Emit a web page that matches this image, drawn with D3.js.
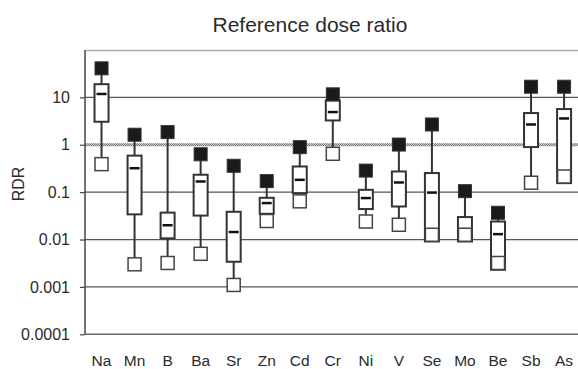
<!DOCTYPE html>
<html>
<head>
<meta charset="utf-8">
<script src="https://cdn.jsdelivr.net/npm/d3@7"></script>
<style>
body { margin: 0; background: #fff; }
text { font-family: "Liberation Sans", Arial, sans-serif; fill: #2a2a2a; }
</style>
</head>
<body>
<svg id="chart" width="578" height="369"></svg>
<script>
// element names along the x axis
var elements = ['Na', 'Mn', 'B', 'Ba', 'Sr', 'Zn', 'Cd', 'Cr', 'Ni', 'V', 'Se', 'Mo', 'Be', 'Sb', 'As'];
// (log scale)
var maxVals    = [41, 1.63, 1.85, 0.63, 0.36, 0.171, 0.89, 11.6, 0.285, 1.01, 2.68, 0.105, 0.0367, 16.8, 16.8];
var boxTop     = [19, 0.59, 0.037, 0.233, 0.0385, 0.076, 0.348, 8.6, 0.112, 0.273, 0.253, 0.0298, 0.024, 4.67, 5.67];
var medians    = [11.8, 0.32, 0.020, 0.168, 0.0144, 0.0588, 0.182, 4.9, 0.075, 0.16, 0.098, 0.0166, 0.013, 2.68, 3.59];
var boxBottom  = [3.06, 0.034, 0.0106, 0.032, 0.0034, 0.0349, 0.0955, 3.26, 0.044, 0.0498, 0.0091, 0.0091, 0.0023, 0.894, 0.155];
var minVals    = [0.39, 0.0030, 0.0032, 0.0050, 0.0011, 0.0246, 0.064, 0.645, 0.024, 0.0205, 0.0126, 0.0126, 0.0032, 0.158, 0.214];

var tickVals = [0.0001, 0.001, 0.01, 0.1, 1, 10];
var tickLabels = ['0.0001', '0.001', '0.01', '0.1', '1', '10'];

var mLeft = 85, mTop = 50, mBottom = 334.3, mRight = 580.6;
var svg = d3.select('#chart');

var x = d3.scaleBand().domain(elements).range([mLeft, mRight]).padding(0);
var y = d3.scaleLog().domain([0.0001, 100]).range([mBottom, mTop]);

var defs = svg.append('defs');
var pat = defs.append('pattern')
  .attr('id', 'hatch')
  .attr('width', 2).attr('height', 2)
  .attr('patternUnits', 'userSpaceOnUse');
pat.append('rect').attr('width', 2).attr('height', 2).attr('fill', '#d0d0d0');
pat.append('rect').attr('width', 1).attr('height', 1).attr('fill', '#777');
pat.append('rect').attr('x', 1).attr('y', 1).attr('width', 1).attr('height', 1).attr('fill', '#777');

// title
svg.append('text')
  .attr('x', 310).attr('y', 32)
  .attr('text-anchor', 'middle')
  .style('font-size', '21px')
  .text('Reference dose ratio');

// gridlines
svg.append('line')
  .attr('x1', mLeft).attr('x2', 578)
  .attr('y1', mTop + 0.5).attr('y2', mTop + 0.5)
  .attr('stroke', '#aaa').attr('stroke-width', 1.5);

svg.selectAll('.grid')
  .data([10, 0.1, 0.01, 0.001])
  .enter().append('line')
  .attr('class', 'grid')
  .attr('x1', mLeft).attr('x2', 578)
  .attr('y1', function(d) { return y(d); })
  .attr('y2', function(d) { return y(d); })
  .attr('stroke', '#555').attr('stroke-width', 1.2);

svg.append('rect')
  .attr('x', mLeft).attr('width', 578 - mLeft)
  .attr('y', y(1) - 1.5).attr('height', 3)
  .attr('fill', 'url(#hatch)');

svg.append('line')
  .attr('x1', mLeft).attr('x2', 578)
  .attr('y1', mBottom).attr('y2', mBottom)
  .attr('stroke', '#666').attr('stroke-width', 1.5);

// y axis
var yAxis = d3.axisLeft(y)
  .tickValues(tickVals)
  .tickFormat(function(d, i) { return tickLabels[i]; })
  .tickSize(5)
  .tickPadding(10);

var ga = svg.append('g')
  .attr('transform', 'translate(' + mLeft + ',0)')
  .call(yAxis);
ga.select('.domain').attr('stroke', '#444').attr('stroke-width', 1.5)
  .attr('d', 'M0,' + mTop + 'V' + mBottom);
ga.selectAll('.tick line').attr('stroke', '#444').attr('stroke-width', 1.2);
ga.selectAll('.tick text')
  .style('font-size', '16px')
  .style('font-family', '"Liberation Sans", Arial, sans-serif')
  .attr('fill', '#2a2a2a');

svg.append('text')
  .attr('transform', 'translate(24,184) rotate(-90)')
  .attr('text-anchor', 'middle')
  .style('font-size', '16px')
  .text('RDR');

// x labels
svg.selectAll('.xlab')
  .data(elements)
  .enter().append('text')
  .attr('class', 'xlab')
  .attr('x', function(d) { return x(d) + x.bandwidth() / 2; })
  .attr('y', 366)
  .attr('text-anchor', 'middle')
  .style('font-size', '15.5px')
  .text(function(d) { return d; });

// boxes
var sq = 13, bw = 14;
var g = svg.selectAll('.el')
  .data(elements)
  .enter().append('g')
  .attr('class', 'el')
  .attr('transform', function(d) { return 'translate(' + (x(d) + x.bandwidth() / 2) + ',0)'; });

// whiskers
g.append('line')
  .attr('y1', function(d, i) { return y(maxVals[i]); })
  .attr('y2', function(d, i) { return y(boxTop[i]); })
  .attr('stroke', '#333').attr('stroke-width', 2);
g.append('line')
  .attr('y1', function(d, i) { return y(boxBottom[i]); })
  .attr('y2', function(d, i) { return Math.max(y(boxBottom[i]), y(minVals[i])); })
  .attr('stroke', '#333').attr('stroke-width', 2);

g.append('rect')
  .attr('x', -bw / 2).attr('width', bw)
  .attr('y', function(d, i) { return y(boxTop[i]); })
  .attr('height', function(d, i) { return y(boxBottom[i]) - y(boxTop[i]); })
  .attr('fill', '#fff').attr('stroke', '#333').attr('stroke-width', 2);

g.append('line')
  .attr('x1', -bw / 2 + 2).attr('x2', bw / 2 - 2)
  .attr('y1', function(d, i) { return y(medians[i]); })
  .attr('y2', function(d, i) { return y(medians[i]); })
  .attr('stroke', '#111').attr('stroke-width', 2.5);

// min (open) and max (filled) squares
g.append('rect')
  .attr('x', -sq / 2).attr('width', sq)
  .attr('y', function(d, i) { return y(minVals[i]) - sq / 2; })
  .attr('height', sq)
  .attr('fill', '#fff').attr('stroke', '#444').attr('stroke-width', 1.5);

g.append('rect')
  .attr('x', -sq / 2).attr('width', sq)
  .attr('y', function(d, i) { return y(maxVals[i]) - sq / 2; })
  .attr('height', sq)
  .attr('fill', '#1a1a1a').attr('stroke', '#333').attr('stroke-width', 1);
</script>
</body>
</html>
